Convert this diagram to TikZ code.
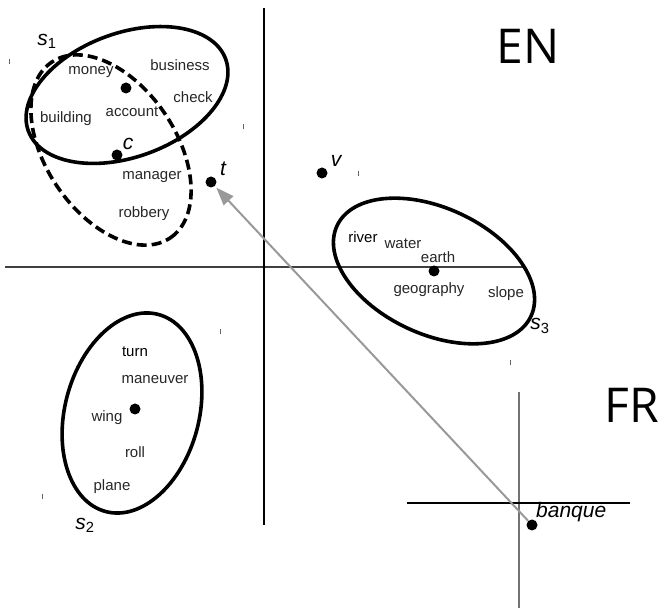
\documentclass[tikz,border=0pt]{standalone}
\usepackage{fontspec}
\setmainfont{Liberation Sans}
\newfontfamily\bigfont{Open Sans}
\usetikzlibrary{arrows.meta}
\begin{document}
\begin{tikzpicture}[x=1pt,y=1pt,
  word/.style={font=\fontsize{15}{15}\selectfont, text=black!85, inner sep=0pt},
  lbl/.style={font=\fontsize{21}{21}\selectfont\itshape, inner sep=0pt},
  big/.style={font=\bigfont\fontsize{48}{48}\selectfont, inner sep=0pt},
  dotn/.style={circle, fill=black, minimum size=11pt, inner sep=0pt},
  cluster/.style={line width=3.6pt},
  tick/.style={black!60, line width=0.8pt},
  axis/.style={line width=1.3pt}]
\useasboundingbox (0,0) rectangle (658,612);
% EN axes
\coordinate (enT) at (264,604);
\coordinate (enB) at (264,87);
\coordinate (enL) at (5,345);
\coordinate (enR) at (525,345);
\draw[black!75, line width=2.2pt] (enL) -- (enR);
\draw[axis] (enT) -- (enB);
% FR axes
\coordinate (frT) at (519,220);
\coordinate (frB) at (519,4);
\coordinate (frL) at (407,109);
\coordinate (frR) at (630,109);
\draw[black!55, line width=1.3pt] (frT) -- (frB);
\draw[line width=1.1pt] (frL) -- (frR);
\node[big] (en) at (528,566) {EN};
\node[big] (fr) at (632,207) {FR};
% clusters
\draw[cluster] (127,517) ellipse [x radius=105, y radius=62, rotate=20];
\draw[cluster, dash pattern=on 10pt off 5pt] (111,462) ellipse [x radius=106, y radius=65, rotate=-56];
\draw[cluster] (434,341) ellipse [x radius=107, y radius=63, rotate=-25];
\draw[cluster] (132,199) ellipse [x radius=102, y radius=67, rotate=75];
% dots
\node[dotn] (d1) at (126,524) {};
\node[dotn] (dc) at (117,457) {};
\node[dotn] (dt) at (211,430) {};
\node[dotn] (dv) at (322,439) {};
\node[dotn] (d3) at (434,341) {};
\node[dotn] (d2) at (135,203) {};
\node[dotn] (db) at (532,87) {};
% labels
\node[lbl] (lc) at (128,468) {c};
\node[lbl] (lt) at (223,443) {t};
\node[lbl] (lv) at (336,451) {v};
\node[lbl, anchor=west] (lb) at (536,100) {banque};
\node[lbl] (s1) at (47,571) {s\textsubscript{\upshape 1}};
\node[lbl] (s2) at (85,87) {s\textsubscript{\upshape 2}};
\node[lbl] (s3) at (540,286) {s\textsubscript{\upshape 3}};
% words
\node[word] (w1) at (91,540) {money};
\node[word] (w2) at (180,547) {business};
\node[word] (w3) at (193,515) {check};
\node[word] (w4) at (132,500) {account};
\node[word] (w5) at (66,493) {building};
\node[word] (w6) at (152,435) {manager};
\node[word] (w7) at (144,398) {robbery};
\node[word, text=black] (w8) at (363,375) {river};
\node[word] (w9) at (403,368) {water};
\node[word] (w10) at (438,355) {earth};
\node[word] (w11) at (429,322) {geography};
\node[word] (w12) at (506,318) {slope};
\node[word, text=black] (w13) at (135,260) {turn};
\node[word] (w14) at (155,232) {maneuver};
\node[word] (w15) at (107,194) {wing};
\node[word] (w16) at (135,160) {roll};
\node[word] (w17) at (112,125) {plane};
% arrow
\draw[black!40, line width=2pt, -{Triangle[length=18pt, width=13pt]}, shorten >=2pt] (db) -- (dt);
% stray ticks
\foreach \p in {(9,550),(243,485),(358,438),(220,280),(510,249),(42,115)}
  \draw[tick] \p ++(0,-2.5) -- ++(0,5);
\end{tikzpicture}
\end{document}
